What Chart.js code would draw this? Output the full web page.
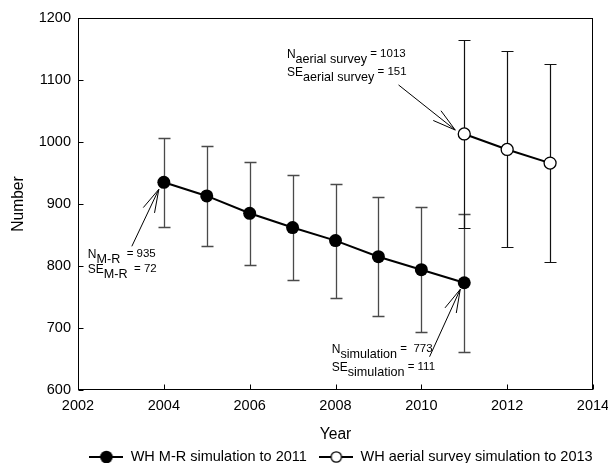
<!DOCTYPE html>
<html><head><meta charset="utf-8">
<script src="https://cdn.jsdelivr.net/npm/chart.js@4/dist/chart.umd.min.js"></script>
<style>html,body{margin:0;padding:0;background:#fff;} canvas{display:block}</style>
</head><body>
<canvas id="c" width="608" height="463"></canvas>
<script>
// ---- data ----
const mrYears = [2004, 2005, 2006, 2007, 2008, 2009, 2010, 2011];
const mrValues = [935, 913, 885, 862, 841, 815, 794, 773];
const mrSE = [72, 81, 83, 85, 92, 96, 101, 111];
const aerialYears = [2011, 2012, 2013];
const aerialValues = [1013, 988, 966];
const aerialSE = [151, 158, 160];
const xRange = [2002, 2014];
const yRange = [600, 1200];
const seriesLabels = ['WH M-R simulation to 2011', 'WH aerial survey simulation to 2013'];
const xTitle = 'Year';
const yTitle = 'Number';

const FONT = '"Liberation Sans", Arial, sans-serif';

// annotations (text/arrow offsets in px relative to the annotated point)
const notes = [
  {ds: 0, idx: 0, gap: 15, text: [-76, 76],
   lines: [['N', 'M-R', '  = ' + mrValues[0]], ['SE', 'M-R', '  = ' + mrSE[0]]],
   from: [-32, 64], to: [-5, 7]},
  {ds: 0, idx: 7, gap: 17.7, text: [-132.5, 70.6],
   lines: [['N', 'simulation', ' =  ' + mrValues[7]], ['SE', 'simulation', ' = ' + mrSE[7]]],
   from: [-34.7, 74], to: [-4, 6.6]},
  {ds: 1, idx: 0, gap: 17.7, text: [-177.3, -75.6],
   lines: [['N', 'aerial survey', ' = ' + aerialValues[0]], ['SE', 'aerial survey', ' = ' + aerialSE[0]]],
   from: [-65.7, -49], to: [-9, -3.9]}
];

function legendIcon(filled) {
  const c = document.createElement('canvas');
  c.width = 34; c.height = 14;
  const g = c.getContext('2d');
  g.strokeStyle = '#000'; g.lineWidth = 2;
  g.beginPath(); g.moveTo(0, 7); g.lineTo(34, 7); g.stroke();
  g.beginPath();
  if (filled) { g.arc(17, 7, 6.3, 0, Math.PI * 2); g.fillStyle = '#000'; g.fill(); }
  else { g.arc(17, 7, 5.2, 0, Math.PI * 2); g.fillStyle = '#fff'; g.fill(); g.lineWidth = 1.3; g.stroke(); }
  return c;
}
const icons = [legendIcon(true), legendIcon(false)];

const errorBars = {
  id: 'errorBars',
  beforeDatasetsDraw(chart) {
    const {ctx, scales: {x, y}} = chart;
    const sets = [
      {xs: mrYears, v: mrValues, se: mrSE, color: '#4a4a4a', w: 1.3},
      {xs: aerialYears, v: aerialValues, se: aerialSE, color: '#111', w: 1.2}
    ];
    ctx.save();
    sets.forEach(s => {
      ctx.strokeStyle = s.color; ctx.lineWidth = s.w;
      s.xs.forEach((yr, i) => {
        const px = Math.round(x.getPixelForValue(yr)) + 0.5;
        const top = Math.round(y.getPixelForValue(s.v[i] + s.se[i])) + 0.5;
        const bot = Math.round(y.getPixelForValue(s.v[i] - s.se[i])) + 0.5;
        ctx.beginPath();
        ctx.moveTo(px, top); ctx.lineTo(px, bot);
        ctx.moveTo(px - 6, top); ctx.lineTo(px + 6, top);
        ctx.moveTo(px - 6, bot); ctx.lineTo(px + 6, bot);
        ctx.stroke();
      });
    });
    ctx.restore();
  }
};

const frame = {
  id: 'frame',
  beforeDatasetsDraw(chart) {
    const {ctx, chartArea: a, scales: {x, y}} = chart;
    ctx.save();
    ctx.strokeStyle = '#000'; ctx.lineWidth = 1;
    const L = Math.round(a.left) + 0.5, R = Math.round(a.right) - 0.5;
    const T = Math.round(a.top) + 0.5, B = Math.round(a.bottom) - 0.5;
    ctx.strokeRect(L, T, R - L, B - T);
    ctx.beginPath();
    y.ticks.forEach(t => {
      const py = Math.round(y.getPixelForValue(t.value)) + 0.5;
      ctx.moveTo(L, py); ctx.lineTo(L + 5, py);
    });
    x.ticks.forEach(t => {
      const px = Math.round(x.getPixelForValue(t.value)) + 0.5;
      ctx.moveTo(px, B); ctx.lineTo(px, B - 5);
    });
    ctx.stroke();
    ctx.restore();
  }
};

const annot = {
  id: 'annot',
  afterDatasetsDraw(chart) {
    const {ctx} = chart;
    ctx.save();
    notes.forEach(n => {
      const el = chart.getDatasetMeta(n.ds).data[n.idx];
      const px = el.x, py = el.y;
      // arrow
      const sx = px + n.from[0], sy = py + n.from[1];
      const tx = px + n.to[0], ty = py + n.to[1];
      ctx.strokeStyle = '#000'; ctx.lineWidth = 1;
      ctx.beginPath(); ctx.moveTo(sx, sy); ctx.lineTo(tx, ty);
      const ang = Math.atan2(sy - ty, sx - tx);
      const hl = 24, ha = 15 * Math.PI / 180;
      ctx.moveTo(tx, ty); ctx.lineTo(tx + hl * Math.cos(ang + ha), ty + hl * Math.sin(ang + ha));
      ctx.moveTo(tx, ty); ctx.lineTo(tx + hl * Math.cos(ang - ha), ty + hl * Math.sin(ang - ha));
      ctx.stroke();
      // text
      ctx.fillStyle = '#000'; ctx.textBaseline = 'alphabetic'; ctx.textAlign = 'left';
      n.lines.forEach((ln, k) => {
        let x0 = px + n.text[0];
        const b = py + n.text[1] + k * n.gap;
        ctx.font = '12px ' + FONT; ctx.fillText(ln[0], x0, b); x0 += ctx.measureText(ln[0]).width;
        ctx.font = '12.6px ' + FONT; ctx.fillText(ln[1], x0, b + 5); x0 += ctx.measureText(ln[1]).width;
        ctx.font = '11.5px ' + FONT; ctx.fillText(ln[2], x0, b - 1.5);
      });
    });
    ctx.restore();
  }
};

const chart = new Chart(document.getElementById('c'), {
  type: 'line',
  data: {
    datasets: [
      {label: seriesLabels[0], data: mrYears.map((yr, i) => ({x: yr, y: mrValues[i]})),
       borderColor: '#000', borderWidth: 2, pointRadius: 6.5, pointBackgroundColor: '#000',
       pointBorderColor: '#000', pointBorderWidth: 0, tension: 0},
      {label: seriesLabels[1], data: aerialYears.map((yr, i) => ({x: yr, y: aerialValues[i]})),
       borderColor: '#000', borderWidth: 2, pointRadius: 6, pointBackgroundColor: '#fff',
       pointBorderColor: '#000', pointBorderWidth: 1.3, tension: 0}
    ]
  },
  options: {
    responsive: false, animation: false, devicePixelRatio: 1,
    layout: {padding: {left: 0, right: 3, top: 18, bottom: -11.25}},
    plugins: {
      tooltip: {enabled: false},
      legend: {
        position: 'bottom', align: 'end',
        labels: {
          usePointStyle: true, pointStyleWidth: 34, padding: 12.4, color: '#000',
          font: {size: 14.5, family: FONT},
          generateLabels(ch) {
            const items = Chart.defaults.plugins.legend.labels.generateLabels(ch);
            items.forEach((it, i) => { it.pointStyle = icons[i]; });
            return items;
          }
        }
      }
    },
    scales: {
      x: {
        type: 'linear', min: xRange[0], max: xRange[1],
        grid: {display: false, drawTicks: false}, border: {display: false},
        ticks: {stepSize: 2, padding: 7, color: '#000', maxRotation: 0,
                font: {size: 14.5, family: FONT}, callback: v => String(v)},
        title: {display: true, text: xTitle, color: '#000', font: {size: 15.6, family: FONT},
                padding: {top: 0, bottom: -7}},
        afterFit(s) { s.height = 47.35; s.paddingLeft = 0; s.paddingRight = 15; }
      },
      y: {
        type: 'linear', min: yRange[0], max: yRange[1],
        grid: {display: false, drawTicks: false}, border: {display: false},
        ticks: {stepSize: 100, padding: 7, color: '#000',
                font: {size: 14.5, family: FONT}, callback: v => String(v)},
        title: {display: true, text: yTitle, color: '#000', font: {size: 15.6, family: FONT},
                padding: {top: 9, bottom: 0}},
        afterFit(s) { s.width = 78; s.paddingTop = 0; s.paddingBottom = 0; }
      }
    }
  },
  plugins: [frame, errorBars, annot]
});
</script>
</body></html>
